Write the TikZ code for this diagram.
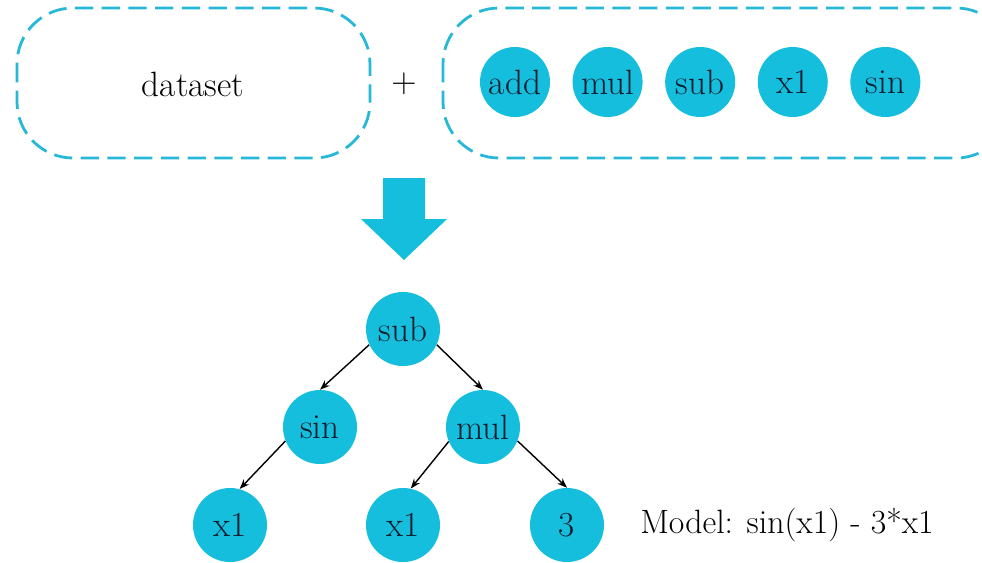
\documentclass[tikz,border=0pt]{standalone}
\usepackage{tikz}
\usetikzlibrary{positioning,arrows.meta}
\definecolor{tokcyan}{RGB}{22,190,221}
\definecolor{poolcyan}{RGB}{38,184,214}
\definecolor{inkblue}{RGB}{18,28,45}

\begin{document}
\begin{tikzpicture}[
  x=0.025cm, y=-0.025cm,
  node distance=0.55cm,
  token/.style={circle,fill=tokcyan,minimum size=1.75cm,inner sep=0pt,text=inkblue,font=\fontsize{25}{30}\selectfont},
  treetok/.style={token,minimum size=1.85cm},
  pool/.style={draw=poolcyan,line width=2pt,dash pattern=on 13pt off 6pt,rounded corners=1.4cm},
  plaintext/.style={inner sep=0pt,font=\fontsize{25}{30}\selectfont},
  every edge/.style={draw,-{Stealth[length=7pt]},line width=1pt},
]
  \useasboundingbox (0,0) rectangle (982,562);

  % Inputs
  \draw[pool] (17,8) rectangle (370,158);
  \node[plaintext] (data) at (193,84) {dataset};
  \node[plaintext] (plus) at (404,84) {$+$};
  \draw[pool] (443,8) rectangle (1012,158);

  % Token set
  \node[token] (add) at (515,82) {add};
  \node[token,right=of add] (mulT) {mul};
  \node[token,right=of mulT] (subT) {sub};
  \node[token,right=of subT] (xT) {x1};
  \node[token,right=of xT] (sinT) {sin};

  % Big arrow
  \fill[tokcyan] (383,178) -- (425,178) -- (425,219) -- (447,219)
    -- (404,260) -- (361,219) -- (383,219) -- cycle;

  % Expression tree
  \node[treetok] (sub) at (403,329) {sub};
  \node[treetok] (sin) at (320,427) {sin};
  \node[treetok] (mul) at (483,427) {mul};
  \node[treetok] (xa) at (230,525) {x1};
  \node[treetok] (xb) at (403,525) {x1};
  \node[treetok] (three) at (567,525) {3};

  % Edges
  \path (sub.205) edge (sin.north);
  \path (sub.-25) edge (mul.north);
  \path (sin.202) edge (xa.75);
  \path (mul.203) edge (xb.78);
  \path (mul.-22) edge (three.north);

  % Result
  \node[plaintext,anchor=west,font=\fontsize{24}{28}\selectfont] (model) at (640,525) {Model: sin(x1) - 3*x1};
\end{tikzpicture}
\end{document}
